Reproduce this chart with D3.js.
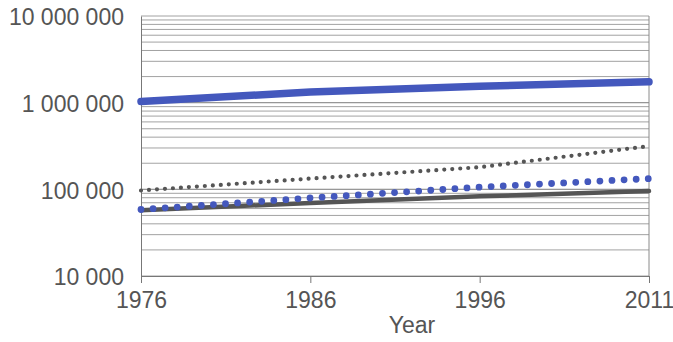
<!DOCTYPE html>
<html><head><meta charset="utf-8">
<script src="https://cdn.jsdelivr.net/npm/d3@7"></script>
<style>body{margin:0;background:#fff}svg{display:block}text{font-family:"Liberation Sans",Arial,sans-serif;fill:#555}</style>
</head><body><svg id="c" width="673" height="342"></svg>
<script>
const years = ["1976","1986","1996","2011"];
const blueSolid = [1030000,1330000,1550000,1740000];
const grayDotted = [97000,133000,180000,315000];
const blueDotted = [58500,79500,106000,133000];
const graySolid = [57500,69500,83000,95500];
const yTicks = [10000,100000,1000000,10000000];
const yTickLabels = ["10 000","100 000","1 000 000","10 000 000"];
const xLabel = "Year";

const svg = d3.select("#c");
const x = d3.scalePoint().domain(years).range([141,649]);
const y = d3.scaleLog().domain([10000,10000000]).range([276,16]);

// grid lines at every log minor step
const grid = [];
for (let d = 10000; d < 10000000; d *= 10) for (let k = 1; k <= 10; k++) grid.push(d*k);
svg.append("g").selectAll("line").data(grid).join("line")
  .attr("x1",141).attr("x2",649)
  .attr("y1",d=>y(d)).attr("y2",d=>y(d))
  .attr("stroke","#8a8a8a").attr("stroke-width",0.8);

svg.append("line").attr("x1",649).attr("x2",649).attr("y1",y(1e7)).attr("y2",y(1e4)).attr("stroke","#8a8a8a").attr("stroke-width",1);

const xAxis = svg.append("g").attr("transform","translate(0,276)")
  .call(d3.axisBottom(x).tickSize(7).tickPadding(9));
xAxis.select(".domain").attr("stroke","#777");
xAxis.selectAll(".tick line").attr("stroke","#777");
xAxis.selectAll("text").attr("font-size",23).attr("fill","#555").attr("font-family","Liberation Sans, Arial, sans-serif");

const yAxis = svg.append("g").attr("transform","translate(141,0)")
  .call(d3.axisLeft(y).tickValues(yTicks).tickFormat((d,i)=>yTickLabels[i]).tickSize(0).tickPadding(17));
yAxis.select(".domain").attr("stroke","#777");
yAxis.selectAll("text").attr("font-size",23).attr("fill","#555").attr("dy","0.38em")
  .attr("font-family","Liberation Sans, Arial, sans-serif");

svg.append("text").attr("x",412).attr("y",333).attr("text-anchor","middle").attr("font-size",23).text(xLabel);

const line = d3.line().x((d,i)=>x(years[i])).y(d=>y(d));
function draw(data, color, width, dash) {
  const p = svg.append("path").datum(data).attr("d",line).attr("fill","none")
    .attr("stroke",color).attr("stroke-width",width).attr("stroke-linecap","round").attr("stroke-linejoin","round");
  if (dash) p.attr("stroke-dasharray",dash);
}
draw(graySolid,"#555555",4.5,null);
draw(grayDotted,"#555555",4.2,"0 8");
draw(blueDotted,"#4458bd",6.8,"0 12.1");
draw(blueSolid,"#4458bd",7.5,null);
</script></body></html>
